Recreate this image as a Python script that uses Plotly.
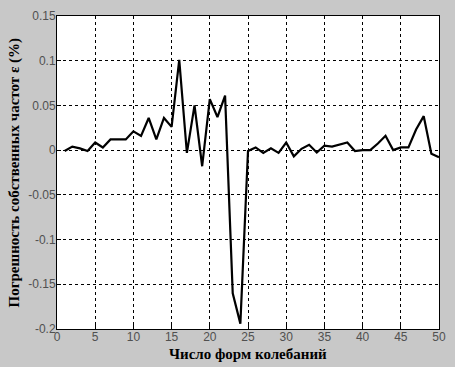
import plotly.graph_objects as go

modes = list(range(1, 51))
error_pct = [
    -0.001, 0.004, 0.002, -0.001, 0.0085, 0.003, 0.012, 0.012, 0.012, 0.021,
    0.016, 0.036, 0.012, 0.036, 0.026, 0.101, -0.003, 0.050, -0.018, 0.057,
    0.037, 0.061, -0.160, -0.194, -0.001, 0.003, -0.003, 0.002, -0.003, 0.0085,
    -0.007, 0.0015, 0.006, -0.0026, 0.005, 0.004, 0.006, 0.0085, -0.001, 0.0,
    0.0, 0.0074, 0.016, 0.0, 0.003, 0.003, 0.023, 0.038, -0.004, -0.008,
]
x_ticks = [0, 5, 10, 15, 20, 25, 30, 35, 40, 45, 50]
y_ticks = [-0.2, -0.15, -0.1, -0.05, 0, 0.05, 0.1, 0.15]
y_tick_text = ["-0.2", "-0.15", "-0.1", "-0.05", "0", "0.05", "0.1", "0.15"]
x_title = "Число форм колебаний"
y_title = "Погрешность собственных частот ε (%)"

fig = go.Figure()
fig.add_trace(go.Scatter(
    x=modes, y=error_pct, mode="lines",
    line=dict(color="black", width=2.2),
    showlegend=False,
))

axis_common = dict(
    showgrid=True, gridcolor="black", griddash="dot", gridwidth=1,
    zeroline=False, showline=True, linecolor="black", linewidth=1, mirror=True,
    ticks="inside", ticklen=4, tickcolor="black",
    ticklabeloverflow="allow",
    tickfont=dict(family="Liberation Sans, Arial", size=12, color="#505050"),
)

title_font = dict(family="Liberation Serif, Times New Roman", size=15, color="black")

fig.update_layout(
    width=455, height=367,
    paper_bgcolor="#c8c8c8", plot_bgcolor="white",
    margin=dict(l=57, r=9, t=12, b=38),
    xaxis=dict(range=[0, 50], tickvals=x_ticks, ticklabelstandoff=-3, **axis_common),
    yaxis=dict(range=[-0.2, 0.15], tickvals=y_ticks, ticktext=y_tick_text,
               ticklabelstandoff=-2, **axis_common),
    annotations=[
        dict(text="<b>" + x_title + "</b>", xref="paper", yref="paper", x=0.5, y=0,
             xanchor="center", yanchor="middle", yshift=-25, showarrow=False, font=title_font),
        dict(text="<b>" + y_title + "</b>", xref="paper", yref="paper", x=0, y=0.5,
             xanchor="center", yanchor="middle", xshift=-43, textangle=-90,
             showarrow=False, font=title_font),
    ],
)

fig.write_html("out.html", config={"displayModeBar": False},
               post_script="document.body.style.margin='0';document.body.style.background='#c8c8c8';")
